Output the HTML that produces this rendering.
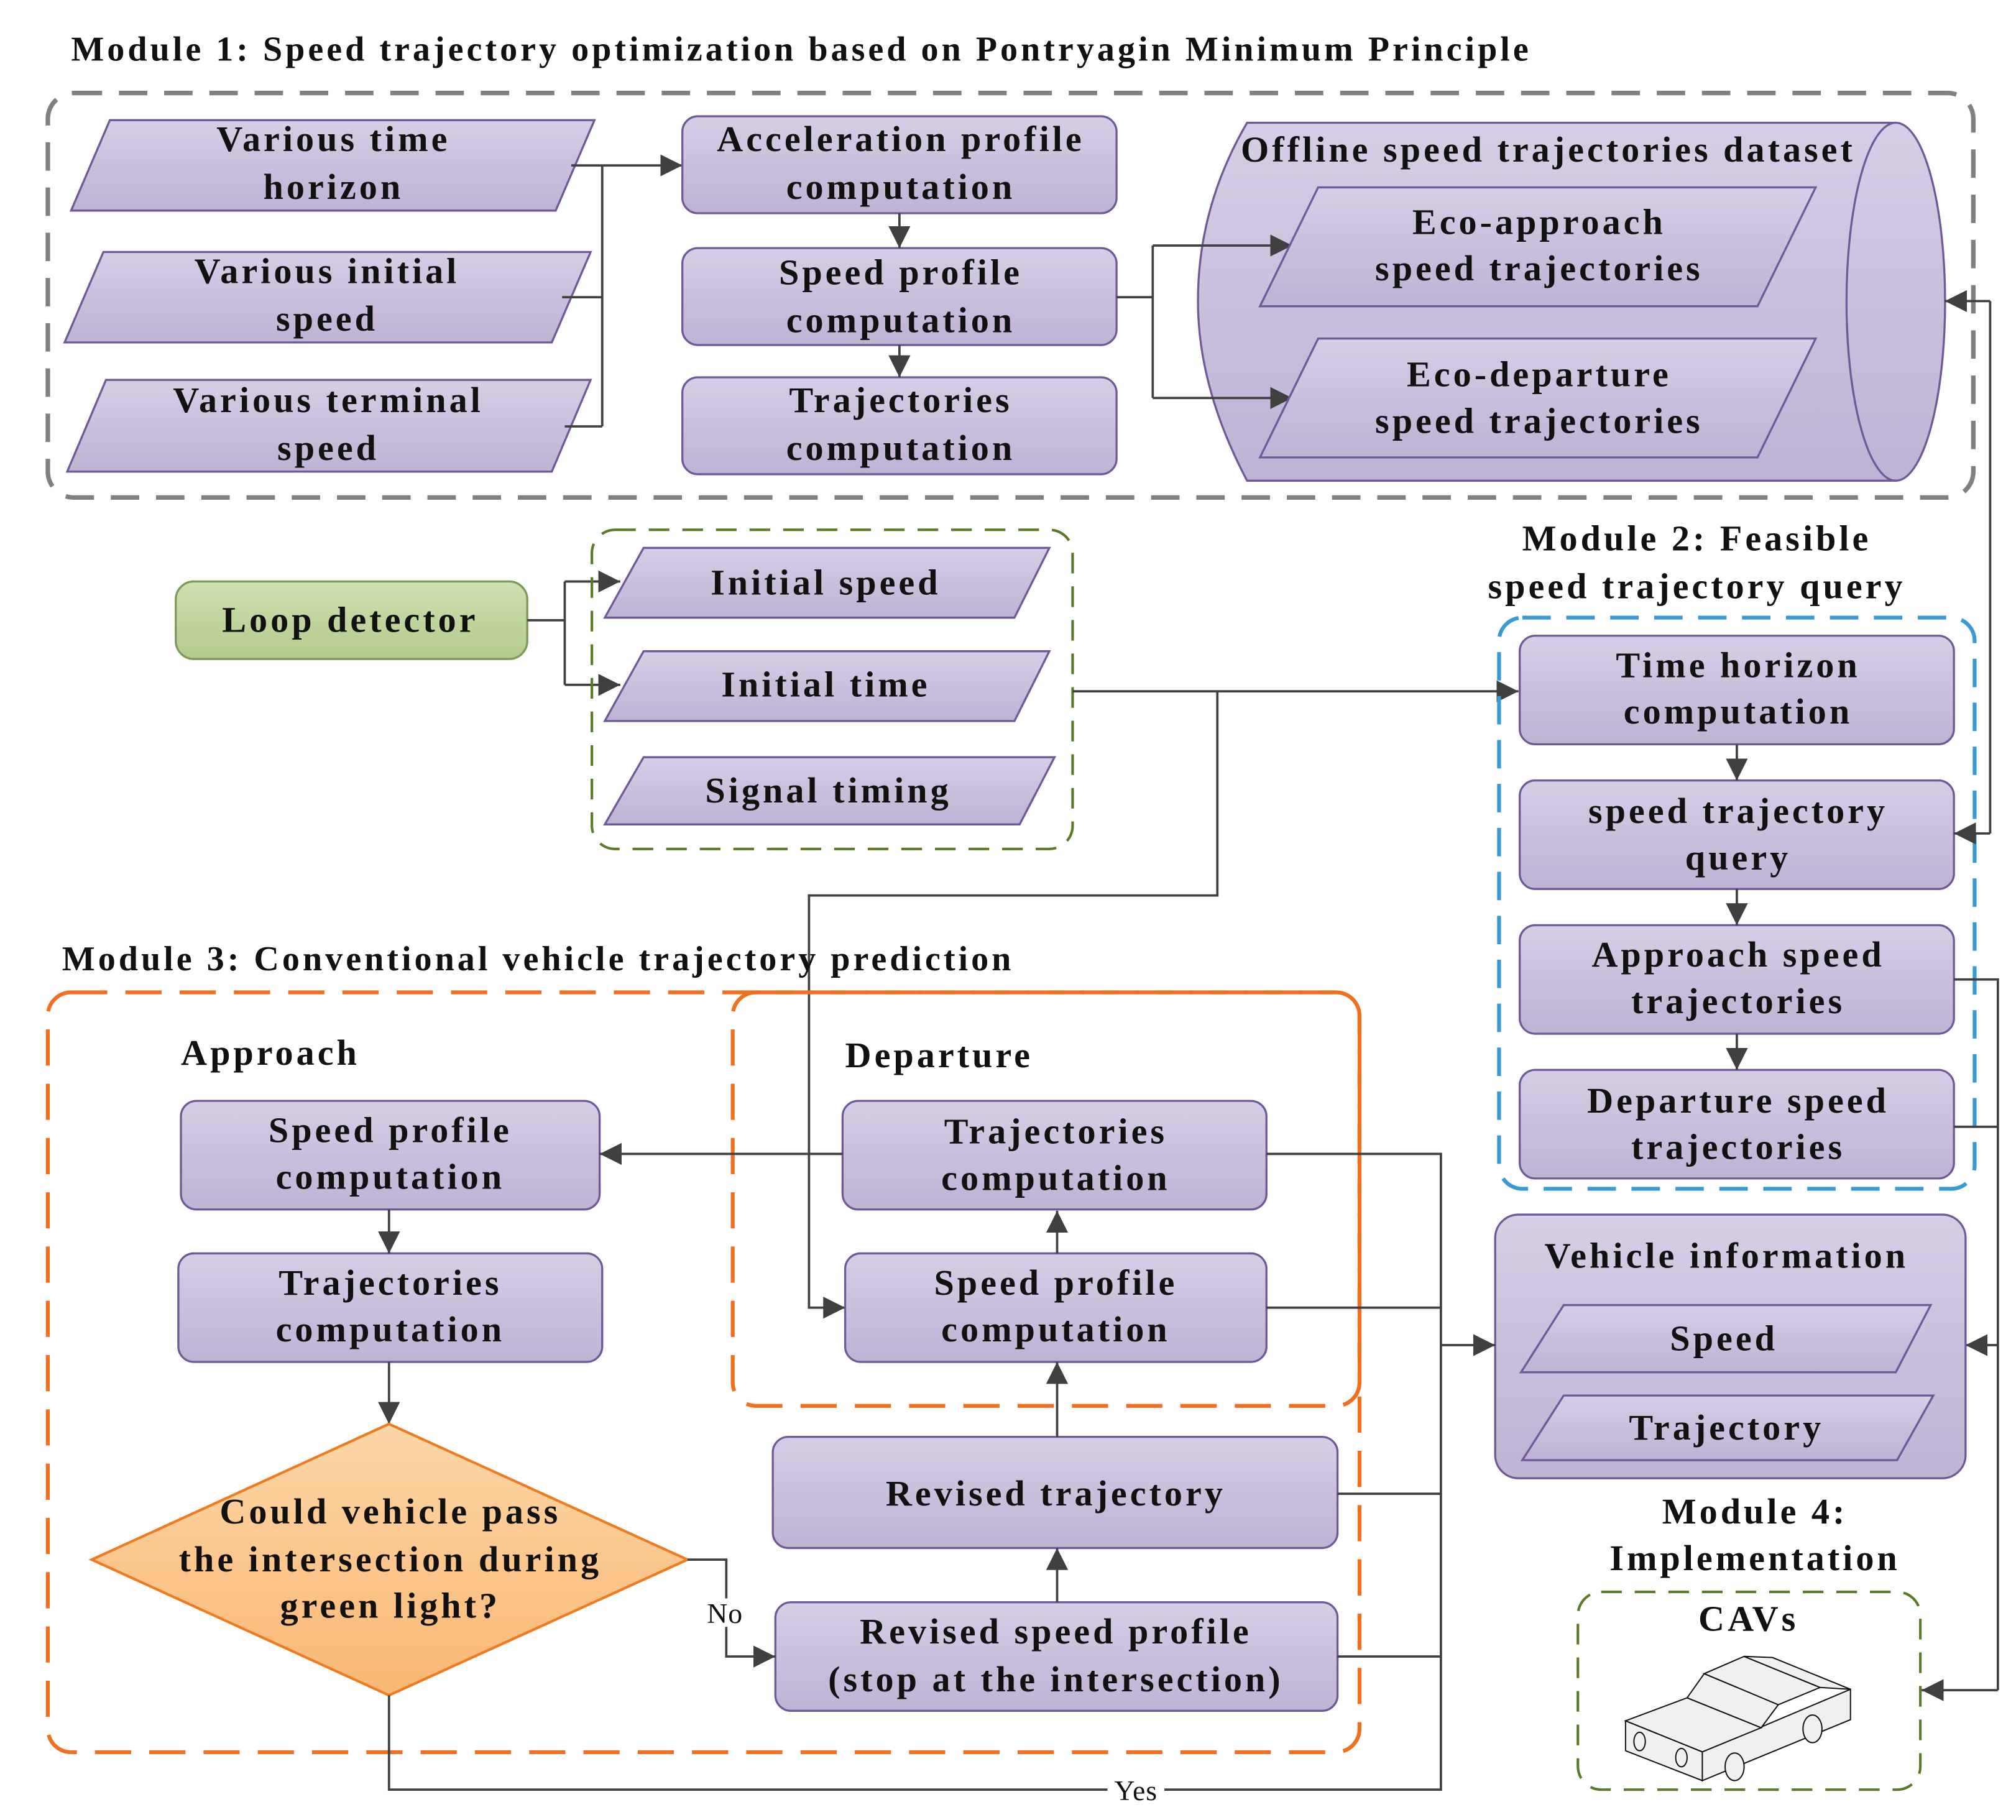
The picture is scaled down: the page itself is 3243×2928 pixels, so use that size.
<!DOCTYPE html>
<html><head><meta charset="utf-8"><style>
html,body{margin:0;padding:0;background:#fff}
svg{display:block}
text{font-family:"Liberation Serif",serif;font-weight:bold;fill:#111;letter-spacing:2.4px}
</style></head><body>
<svg width="3243" height="2928" viewBox="0 0 1560 1408.5" xmlns="http://www.w3.org/2000/svg">
<defs>
<linearGradient id="pg" x1="0" y1="0" x2="0" y2="1"><stop offset="0" stop-color="#d6cde6"/><stop offset="1" stop-color="#beb3d3"/></linearGradient>
<linearGradient id="gg" x1="0" y1="0" x2="0" y2="1"><stop offset="0" stop-color="#cfe0b2"/><stop offset="1" stop-color="#b3ca8c"/></linearGradient>
<linearGradient id="og" x1="0" y1="0" x2="0" y2="1"><stop offset="0" stop-color="#fdd6a6"/><stop offset="1" stop-color="#f9b874"/></linearGradient>
<marker id="ab" viewBox="0 0 10 10" refX="10" refY="5" markerWidth="17" markerHeight="17" markerUnits="userSpaceOnUse" orient="auto"><path d="M0,0 L10,5 L0,10 z" fill="#404040"/></marker>
</defs>
<style>
.p{fill:url(#pg);stroke:#6f5a98;stroke-width:1.6}
.c{fill:none;stroke:#404040;stroke-width:1.8}
.t{font-size:28px;text-anchor:middle}
</style>

<!-- Module 1 -->
<text x="55" y="47" style="font-size:27px">Module 1: Speed trajectory optimization based on Pontryagin Minimum Principle</text>
<rect x="37" y="72" width="1490" height="313" rx="20" fill="none" stroke="#808080" stroke-width="3.5" stroke-dasharray="22 13"/>

<polygon class="p" points="85,93 460,93 430,163 55,163"/>
<text class="t" x="258" y="117">Various time</text><text class="t" x="258" y="154">horizon</text>
<polygon class="p" points="80,195 457,195 427,265 50,265"/>
<text class="t" x="253" y="219">Various initial</text><text class="t" x="253" y="256">speed</text>
<polygon class="p" points="82,294 457,294 427,365 52,365"/>
<text class="t" x="254" y="319">Various terminal</text><text class="t" x="254" y="356">speed</text>
<path class="c" d="M442,128 H466 M435,230 H466 M437,330 H466 M466,128 V330"/>
<path class="c" d="M466,128 H528" marker-end="url(#ab)"/>

<rect class="p" x="528" y="90" width="336" height="75" rx="12"/>
<text class="t" x="697" y="117">Acceleration profile</text><text class="t" x="697" y="154">computation</text>
<rect class="p" x="528" y="192" width="336" height="75" rx="12"/>
<text class="t" x="697" y="220">Speed profile</text><text class="t" x="697" y="257">computation</text>
<rect class="p" x="528" y="292" width="336" height="75" rx="12"/>
<text class="t" x="697" y="319">Trajectories</text><text class="t" x="697" y="356">computation</text>
<path class="c" d="M696,165 V192" marker-end="url(#ab)"/>
<path class="c" d="M696,267 V292" marker-end="url(#ab)"/>
<path class="c" d="M864,230 H892 M892,190 V308"/>

<path class="p" d="M965,95 H1467 A38,138 0 0 1 1467,372 H965 Q927,300 927,233 Q927,160 965,95 Z"/>
<path class="p" style="fill:none" d="M1467,95 A38,138 0 0 0 1467,372"/>
<path class="c" d="M892,190 H1000" marker-end="url(#ab)"/>
<path class="c" d="M892,308 H1000" marker-end="url(#ab)"/>
<text class="t" x="1198" y="125">Offline speed trajectories dataset</text>
<polygon class="p" points="1020,145 1405,145 1360,237 975,237"/>
<text class="t" x="1191" y="181">Eco-approach</text><text class="t" x="1191" y="217">speed trajectories</text>
<polygon class="p" points="1020,262 1405,262 1360,354 975,354"/>
<text class="t" x="1191" y="299">Eco-departure</text><text class="t" x="1191" y="335">speed trajectories</text>

<!-- Inputs -->
<rect x="136" y="450" width="272" height="60" rx="14" fill="url(#gg)" stroke="#7e9a5a" stroke-width="1.6"/>
<text class="t" x="271" y="489">Loop detector</text>
<path class="c" d="M408,480 H437 M437,450 V530"/>
<path class="c" d="M437,450 H480" marker-end="url(#ab)"/>
<path class="c" d="M437,530 H480" marker-end="url(#ab)"/>
<rect x="458" y="410" width="372" height="247" rx="18" fill="none" stroke="#5a7a2a" stroke-width="2" stroke-dasharray="16 10"/>
<polygon class="p" points="498,424 812,424 785,478 468,478"/>
<text class="t" x="639" y="460">Initial speed</text>
<polygon class="p" points="498,504 812,504 785,558 468,558"/>
<text class="t" x="639" y="539">Initial time</text>
<polygon class="p" points="498,586 816,586 789,638 468,638"/>
<text class="t" x="641" y="621">Signal timing</text>
<path class="c" d="M830,535 H1175" marker-end="url(#ab)"/>
<path class="c" d="M942,535 V693 H626 V1012 H654" marker-end="url(#ab)"/>

<!-- Module 2 -->
<text class="t" x="1313" y="426">Module 2: Feasible</text>
<text class="t" x="1313" y="463">speed trajectory query</text>
<rect x="1160" y="478" width="368" height="442" rx="18" fill="none" stroke="#3a9ad6" stroke-width="3" stroke-dasharray="22 12"/>
<rect class="p" x="1176" y="492" width="336" height="84" rx="12"/>
<text class="t" x="1345" y="524">Time horizon</text><text class="t" x="1345" y="560">computation</text>
<rect class="p" x="1176" y="604" width="336" height="84" rx="12"/>
<text class="t" x="1345" y="637">speed trajectory</text><text class="t" x="1345" y="673">query</text>
<rect class="p" x="1176" y="716" width="336" height="84" rx="12"/>
<text class="t" x="1345" y="748">Approach speed</text><text class="t" x="1345" y="784">trajectories</text>
<rect class="p" x="1176" y="828" width="336" height="84" rx="12"/>
<text class="t" x="1345" y="861">Departure speed</text><text class="t" x="1345" y="897">trajectories</text>
<path class="c" d="M1344,576 V604" marker-end="url(#ab)"/>
<path class="c" d="M1344,688 V716" marker-end="url(#ab)"/>
<path class="c" d="M1344,800 V828" marker-end="url(#ab)"/>
<path class="c" d="M1540,233 V645"/>
<path class="c" d="M1540,233 H1505" marker-end="url(#ab)"/>
<path class="c" d="M1540,645 H1512" marker-end="url(#ab)"/>
<path class="c" d="M1512,758 H1546 V1308 M1512,872 H1546"/>
<path class="c" d="M1546,1308 H1487" marker-end="url(#ab)"/>
<path class="c" d="M1546,1041 H1521" marker-end="url(#ab)"/>

<!-- Vehicle info -->
<rect class="p" x="1157" y="940" width="364" height="204" rx="18"/>
<text class="t" x="1336" y="981">Vehicle information</text>
<polygon class="p" points="1210,1010 1494,1010 1467,1062 1177,1062"/>
<text class="t" x="1334" y="1045">Speed</text>
<polygon class="p" points="1210,1080 1496,1080 1468,1130 1178,1130"/>
<text class="t" x="1336" y="1114">Trajectory</text>
<text class="t" x="1358" y="1179">Module 4:</text>
<text class="t" x="1358" y="1215">Implementation</text>
<rect x="1221" y="1232" width="265" height="153" rx="18" fill="none" stroke="#5a7a2a" stroke-width="2" stroke-dasharray="16 10"/>
<text class="t" x="1353" y="1262">CAVs</text>
<g transform="translate(1257,1281) scale(0.294,0.178) translate(-500,-820)" fill="#f0f0f0" stroke="#111" stroke-width="2">
<polygon vector-effect="non-scaling-stroke" points="705,1240 1095,968 1095,1100 705,1365"/>
<polygon vector-effect="non-scaling-stroke" points="503,1105 705,1240 705,1365 503,1235"/>
<polygon vector-effect="non-scaling-stroke" points="503,1105 665,1005 860,1135 705,1240"/>
<polygon vector-effect="non-scaling-stroke" points="665,1005 710,900 905,1035 860,1135"/>
<polygon vector-effect="non-scaling-stroke" points="710,900 815,825 1015,960 905,1035"/>
<polygon vector-effect="non-scaling-stroke" points="815,825 890,830 1095,968 1015,960"/>
<ellipse vector-effect="non-scaling-stroke" cx="790" cy="1305" rx="25" ry="60"/>
<ellipse vector-effect="non-scaling-stroke" cx="995" cy="1140" rx="25" ry="60"/>
<ellipse vector-effect="non-scaling-stroke" cx="540" cy="1195" rx="15" ry="40"/>
<ellipse vector-effect="non-scaling-stroke" cx="650" cy="1265" rx="15" ry="40"/>
</g>

<!-- Module 3 -->
<text x="48" y="751" style="font-size:27px">Module 3: Conventional vehicle trajectory prediction</text>
<rect x="37" y="768" width="1015" height="588" rx="18" fill="none" stroke="#f07020" stroke-width="3" stroke-dasharray="28 14"/>
<rect x="567" y="768" width="485" height="320" rx="18" fill="none" stroke="#f07020" stroke-width="3" stroke-dasharray="28 14"/>
<text x="140" y="824" style="font-size:28px">Approach</text>
<text x="654" y="826" style="font-size:28px">Departure</text>

<rect class="p" x="140" y="852" width="324" height="84" rx="12"/>
<text class="t" x="302" y="884">Speed profile</text><text class="t" x="302" y="920">computation</text>
<rect class="p" x="138" y="970" width="328" height="84" rx="12"/>
<text class="t" x="302" y="1002">Trajectories</text><text class="t" x="302" y="1038">computation</text>
<path class="c" d="M301,936 V970" marker-end="url(#ab)"/>
<path class="c" d="M301,1054 V1102" marker-end="url(#ab)"/>
<polygon points="301,1102 532,1207 301,1312 71,1207" fill="url(#og)" stroke="#f07a20" stroke-width="2"/>
<text class="t" x="302" y="1179">Could vehicle pass</text>
<text class="t" x="302" y="1216">the intersection during</text>
<text class="t" x="302" y="1252">green light?</text>

<rect class="p" x="652" y="852" width="328" height="84" rx="12"/>
<text class="t" x="817" y="885">Trajectories</text><text class="t" x="817" y="921">computation</text>
<rect class="p" x="654" y="970" width="326" height="84" rx="12"/>
<text class="t" x="817" y="1002">Speed profile</text><text class="t" x="817" y="1038">computation</text>
<path class="c" d="M818,970 V937" marker-end="url(#ab)"/>
<path class="c" d="M652,893 H464" marker-end="url(#ab)"/>
<rect class="p" x="598" y="1112" width="437" height="86" rx="12"/>
<text class="t" x="817" y="1165">Revised trajectory</text>
<rect class="p" x="600" y="1240" width="435" height="84" rx="12"/>
<text class="t" x="817" y="1272">Revised speed profile</text><text class="t" x="817" y="1309">(stop at the intersection)</text>
<path class="c" d="M818,1112 V1054" marker-end="url(#ab)"/>
<path class="c" d="M818,1240 V1198" marker-end="url(#ab)"/>
<path class="c" d="M532,1207 H562 V1282 H600" marker-end="url(#ab)"/>
<rect x="543" y="1237" width="36" height="22" fill="#fff"/>
<text x="561" y="1256" style="font-size:22px;font-weight:normal;text-anchor:middle;letter-spacing:0.5px">No</text>

<path class="c" d="M301,1312 V1385 H1115 V893 H980 M980,1012 H1115 M1035,1156 H1115 M1035,1282 H1115"/>
<path class="c" d="M1115,1041 H1157" marker-end="url(#ab)"/>
<rect x="857" y="1374" width="44" height="22" fill="#fff"/>
<text x="879" y="1393" style="font-size:22px;font-weight:normal;text-anchor:middle;letter-spacing:0.5px">Yes</text>
</svg>
</body></html>
